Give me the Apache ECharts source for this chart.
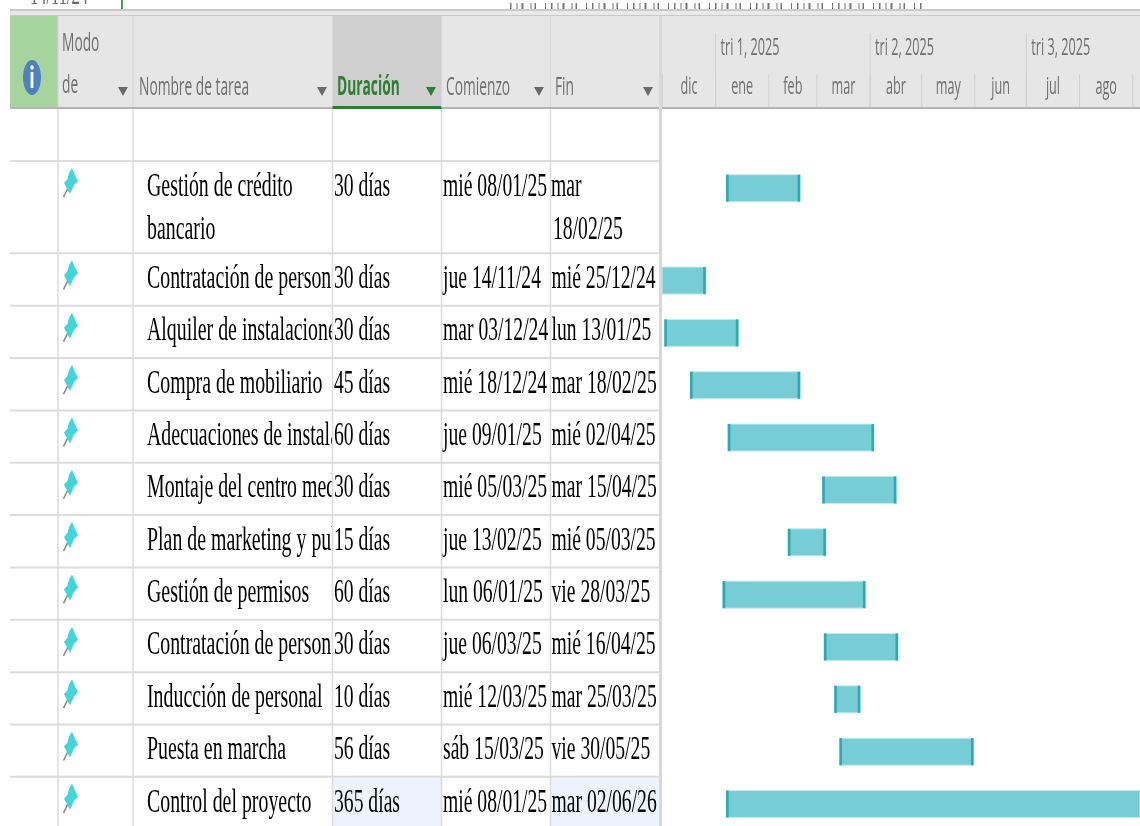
<!DOCTYPE html>
<html>
<head>
<meta charset="utf-8">
<style>html,body{margin:0;padding:0;background:#fff}#chart{width:1140px;height:826px}</style>
<script src="https://cdn.jsdelivr.net/npm/echarts@6/dist/echarts.min.js"></script>
</head>
<body>
<div id="chart"></div>
<script>
// Task table
const taskNames = [
  ['Gestión de crédito', 'bancario'],
  ['Contratación de personal'],
  ['Alquiler de instalaciones'],
  ['Compra de mobiliario'],
  ['Adecuaciones de instalaciones'],
  ['Montaje del centro medico'],
  ['Plan de marketing y publicidad'],
  ['Gestión de permisos'],
  ['Contratación de personal'],
  ['Inducción de personal'],
  ['Puesta en marcha'],
  ['Control del proyecto']
];
const durations = ['30 días','30 días','30 días','45 días','60 días','30 días','15 días','60 días','30 días','10 días','56 días','365 días'];
const startLabels = ['mié 08/01/25','jue 14/11/24','mar 03/12/24','mié 18/12/24','jue 09/01/25','mié 05/03/25','jue 13/02/25','lun 06/01/25','jue 06/03/25','mié 12/03/25','sáb 15/03/25','mié 08/01/25'];
const endLabels = ['mar 18/02/25','mié 25/12/24','lun 13/01/25','mar 18/02/25','mié 02/04/25','mar 15/04/25','mié 05/03/25','vie 28/03/25','mié 16/04/25','mar 25/03/25','vie 30/05/25','mar 02/06/26'];

// Timescale header
const monthNames = ['dic','ene','feb','mar','abr','may','jun','jul','ago','sep'];
const monthStarts = ['2024-12-01','2025-01-01','2025-02-01','2025-03-01','2025-04-01','2025-05-01','2025-06-01','2025-07-01','2025-08-01','2025-09-01'];
const quarterNames = ['tri 1, 2025','tri 2, 2025','tri 3, 2025'];
const quarterStarts = ['2025-01-01','2025-04-01','2025-07-01'];

const DAY = 86400000;
const toTime = s => { const [d, m, y] = s.split(' ')[1].split('/').map(Number); return Date.UTC(2000 + y, m - 1, d); };
const isoTime = s => { const [y, m, d] = s.split('-').map(Number); return Date.UTC(y, m - 1, d); };

// Table geometry
const X = { left: 10, info: 58, mode: 133, name: 332.5, dur: 441.5, start: 550.5, end: 659, chart: 662 };
const HEAD_TOP = 16, HEAD_BOTTOM = 109, H = 826;
const BLANK_ROW = 52, LINE = 40, PAD = 12.35;
const rowHeight = lines => PAD + LINE * lines;

// Row tops relative to the plot area, the first row is left empty
const rowTops = [];
let cursor = BLANK_ROW;
taskNames.forEach(n => { rowTops.push(cursor); cursor += rowHeight(n.length); });

const BODY_FONT = '33px "Liberation Serif", serif';
const BODY_SCALE = 0.595;
const NAME_SCALE = 0.602;
const BODY_INK = '#000';
const HEAD_FONT = '26px "Open Sans", sans-serif';
const HEAD_SCALE = 0.53;
const GREEN = '#2E7D32';
const LINE_COL = '#DCDCDC';

const els = [];
const rect = (x, y, w, h, fill) => els.push({ type: 'rect', silent: true, shape: { x, y, width: w, height: h }, style: { fill } });
const text = (s, x, y, font, sx, fill) => els.push({
  type: 'text', silent: true, x, y, scaleX: sx,
  style: { text: s, font, fill, textVerticalAlign: 'middle', textAlign: 'left' }
});
const caret = (cx, cy, fill) => els.push({
  type: 'polygon', silent: true,
  shape: { points: [[cx - 5, cy - 4], [cx + 5, cy - 4], [cx, cy + 5]] }, style: { fill }
});
const pin = y => {
  els.push({ type: 'line', silent: true, shape: { x1: 68, y1: y + 27, x2: 63.5, y2: y + 36 }, style: { stroke: '#8A8A8A', lineWidth: 1.6 } });
  els.push({
    type: 'polygon', silent: true,
    shape: { points: [[72, y + 7], [75, y + 14], [78, y + 20], [74, y + 24], [70, y + 33], [64, y + 22], [67.5, y + 18], [69, y + 12]] },
    style: { fill: '#43D5D9' }
  });
};

// Remains of the view above the header
text('14/11/24', 30, -4, '30px "Liberation Serif", serif', 0.55, '#666');
els.push({ type: 'rect', silent: true, shape: { x: 121, y: 0, width: 2, height: 9 }, style: { fill: '#4E9A54' } });
els.push({
  type: 'line', silent: true,
  shape: { x1: 510, y1: 6, x2: 925, y2: 6 },
  style: { stroke: '#777', lineWidth: 6, lineDash: [1.5, 5, 1, 4, 2, 7, 1, 3, 1.5, 9, 1, 5] }
});
rect(500, 0, 440, 3, '#fff');

// Header band
rect(10, 9, 1130, 2, '#C9C9C9');
rect(10, 11, 1130, 4, '#E9E9E9');
rect(10, 15, 1130, 1.5, '#C9C9C9');
rect(X.left, HEAD_TOP, X.chart + 478 - X.left, HEAD_BOTTOM - HEAD_TOP - 2, '#E6E6E6');
rect(X.left, HEAD_TOP, X.info - X.left, HEAD_BOTTOM - HEAD_TOP - 2, '#A6D49F');
rect(X.name, HEAD_TOP, X.dur - X.name, HEAD_BOTTOM - HEAD_TOP - 2, '#CFCFCF');
rect(X.left, 107, 1130, 2, '#B4B4B4');
rect(X.name, 106, X.dur - X.name, 3, GREEN);
[X.info, X.mode, X.dur, X.start].forEach(x => rect(x - 0.5, HEAD_TOP, 1, 91, '#D6D6D6'));

// Information icon
els.push({ type: 'ellipse', silent: true, shape: { cx: 32, cy: 77.5, rx: 9, ry: 17.5 }, style: { fill: '#4F81BD' } });
rect(30.6, 72, 2.8, 16, '#fff');
els.push({ type: 'ellipse', silent: true, shape: { cx: 32, cy: 67.5, rx: 1.7, ry: 2.2 }, style: { fill: '#fff' } });

// Column captions
const CAPTION = '#6F6F6F';
text('Modo', 62, 44, HEAD_FONT, HEAD_SCALE, CAPTION);
text('de', 62, 86, HEAD_FONT, HEAD_SCALE, CAPTION);
text('Nombre de tarea', 139, 88, HEAD_FONT, HEAD_SCALE, CAPTION);
text('Duración', 337, 88, 'bold ' + HEAD_FONT, HEAD_SCALE, GREEN);
text('Comienzo', 446, 88, HEAD_FONT, HEAD_SCALE, CAPTION);
text('Fin', 555, 88, HEAD_FONT, HEAD_SCALE, CAPTION);
[123, 322, 431, 539, 648].forEach((cx, i) => {
  caret(cx, 91, i === 2 ? GREEN : '#6A6A6A');
});

// Table body
const rowsTop = HEAD_BOTTOM;
taskNames.forEach((lines, i) => {
  const y = rowsTop + rowTops[i];
  // The task name runs under the next column and is cut there by its fill
  text(lines[0], 147, y + 26, BODY_FONT, NAME_SCALE, BODY_INK);
  if (lines[1]) text(lines[1], 147, y + 69, BODY_FONT, NAME_SCALE, BODY_INK);
  const last = i === taskNames.length - 1;
  rect(X.name, y + 1, X.dur - X.name, rowHeight(lines.length) - 1, last ? '#EDF2FD' : '#fff');
  if (last) rect(X.start, y + 1, X.end - X.start, rowHeight(lines.length) - 1, '#EDF2FD');
  pin(y);
  text(durations[i], 334, y + 26, BODY_FONT, BODY_SCALE, BODY_INK);
  text(startLabels[i], 443, y + 26, BODY_FONT, BODY_SCALE, BODY_INK);
  if (lines.length > 1) {
    const parts = endLabels[i].split(' ');
    text(parts[0], 551, y + 26, BODY_FONT, BODY_SCALE, BODY_INK);
    text(parts[1], 553, y + 69, BODY_FONT, BODY_SCALE, BODY_INK);
  } else {
    text(endLabels[i], 551.5, y + 26, BODY_FONT, BODY_SCALE, BODY_INK);
  }
});

// Grid lines
rowTops.forEach(t => rect(X.left, rowsTop + t - 1, X.end - X.left, 2, LINE_COL));
[X.info, X.mode, X.name, X.dur, X.start].forEach(x => rect(x - 0.75, HEAD_BOTTOM, 1.5, H - HEAD_BOTTOM, LINE_COL));
rect(X.end, HEAD_TOP, X.chart - X.end, H - HEAD_TOP, '#D8D8D8');

// Tick marks and labels of the timescale
const timescale = (names, starts, ends, tickTop, labelY, labelOffset, font, sx) => ({
  type: 'custom', coordinateSystem: 'cartesian2d', silent: true, clip: false, z: 3,
  data: starts.map((s, i) => [isoTime(s), ends[i], i, 0]),
  encode: { x: 0, y: 3 },
  renderItem(params, api) {
    const x = api.coord([api.value(0), 0])[0];
    const xEnd = api.coord([api.value(1), 0])[0];
    const label = names[api.value(2)];
    const pos = labelOffset === null ? (x + xEnd) / 2 : x + labelOffset;
    const children = [{
      type: 'text', x: pos, y: labelY, scaleX: sx,
      style: { text: label, font, fill: CAPTION, textVerticalAlign: 'middle', textAlign: labelOffset === null ? 'center' : 'left' }
    }];
    if (x > X.chart) children.push({
      type: 'rect', shape: { x: x - 0.5, y: tickTop, width: 1, height: 107 - tickTop }, style: { fill: '#D0D0D0' }
    });
    return { type: 'group', children };
  }
});
const monthEnds = monthStarts.map((s, i) => i + 1 < monthStarts.length ? isoTime(monthStarts[i + 1]) : isoTime('2025-10-01'));
const quarterEnds = quarterStarts.map(s => isoTime(s) + 91 * DAY);

const AXIS_MIN = isoTime('2024-12-01') - 0.2 * DAY;
const AXIS_MAX = isoTime('2025-09-05') + 0.2 * DAY;

// Gantt bars with darker end caps
const barData = startLabels.map((s, i) => [toTime(s), toTime(endLabels[i]) + DAY, rowTops[i], i]);
const barSeries = {
  type: 'custom', coordinateSystem: 'cartesian2d', silent: true, z: 4,
  name: 'Tareas',
  data: barData,
  encode: { x: [0, 1], y: 2 },
  clip: true,
  renderItem(params, api) {
    const a = api.coord([api.value(0), api.value(2) + 13.7]);
    const b = api.coord([api.value(1), api.value(2) + 40.7]);
    a[0] -= 1.5;
    b[0] += 0.5;
    const cs = params.coordSys;
    const clipBox = { x: cs.x, y: cs.y, width: cs.width, height: cs.height };
    const body = echarts.graphic.clipRectByRect({ x: a[0], y: a[1], width: b[0] - a[0], height: b[1] - a[1] }, clipBox);
    if (!body) return;
    const children = [{ type: 'rect', shape: body, style: { fill: '#76CDD6', stroke: '#C4EAED', lineWidth: 1 } }];
    const CAP = 2.6;
    if (a[0] >= cs.x) children.push({ type: 'rect', shape: { x: a[0], y: a[1], width: CAP, height: b[1] - a[1] }, style: { fill: '#2EA9B3' } });
    if (b[0] <= cs.x + cs.width) children.push({ type: 'rect', shape: { x: b[0] - CAP, y: a[1], width: CAP, height: b[1] - a[1] }, style: { fill: '#2EA9B3' } });
    return { type: 'group', children };
  }
};

const chart = echarts.init(document.getElementById('chart'), null, { renderer: 'canvas' });
chart.setOption({
  animation: false,
  backgroundColor: '#fff',
  graphic: { elements: els },
  grid: { left: X.chart, right: 0, top: HEAD_BOTTOM, bottom: 0, containLabel: false },
  xAxis: { type: 'time', min: AXIS_MIN, max: AXIS_MAX, position: 'top', axisLine: { show: false }, axisTick: { show: false }, axisLabel: { show: false }, splitLine: { show: false } },
  yAxis: { type: 'value', inverse: true, min: 0, max: H - HEAD_BOTTOM, show: false, splitLine: { show: false } },
  series: [
    timescale(quarterNames, quarterStarts, quarterEnds, 33, 48, 5, '23px "Open Sans", sans-serif', 0.55),
    timescale(monthNames, monthStarts, monthEnds, 74, 87, null, '23px "Open Sans", sans-serif', 0.55),
    barSeries
  ]
});
</script>
</body>
</html>
